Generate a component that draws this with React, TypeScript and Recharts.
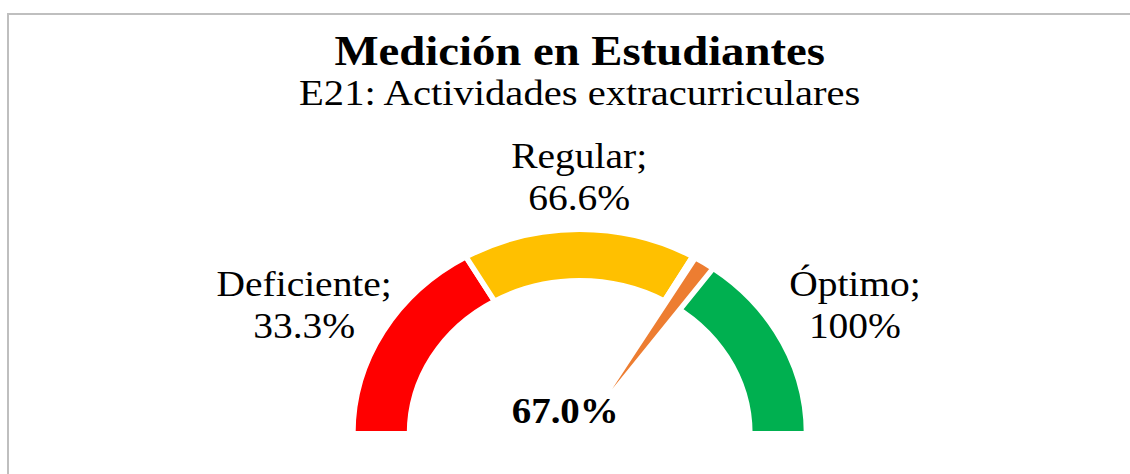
import React from 'react';
import { PieChart, Pie, Cell } from 'recharts';

// gauge bands (Excel-style half donut)
const CATEGORIES = ['Deficiente', 'Regular', 'Óptimo'];
const THRESHOLDS = [33.3, 66.6, 100];
const BAND_COLORS = ['#FF0000', '#FFC000', '#00B050'];

// needle
const SCORE = 67.0;
const NEEDLE_WIDTH = 3;
const NEEDLE_COLOR = '#ED7D31';

const TITLE = 'Medición en Estudiantes';
const SUBTITLE = 'E21: Actividades extracurriculares';

const FONT = "'Liberation Serif', 'Times New Roman', serif";
const STRETCH = 1.112;
const W = 1016;
const H = 474;
const CX = 521.3;
const CY = 433.5;
const INNER = 153;
const OUTER = 204;

const bandData = CATEGORIES.map((name, i) => ({
  name,
  value: THRESHOLDS[i] - (i > 0 ? THRESHOLDS[i - 1] : 0),
}));

const needleData = [
  { name: 'before', value: SCORE },
  { name: 'needle', value: NEEDLE_WIDTH },
  { name: 'after', value: 100 - SCORE - NEEDLE_WIDTH },
];

const renderBandLabel = (props: any) => {
  const { cx, cy, midAngle, outerRadius, index } = props;
  const rad = (midAngle * Math.PI) / 180;
  const x = cx + Math.cos(rad) * (outerRadius + 82);
  const yc = cy - Math.sin(rad) * (outerRadius + 52);
  return (
    <text
      x={x}
      y={yc - 9.25}
      textAnchor='middle'
      fontFamily={FONT}
      fontSize={35.5}
      fill='#000000'
    >
      <tspan x={x}>{CATEGORIES[index]};</tspan>
      <tspan x={x} dy={41.5}>
        {String(THRESHOLDS[index])}%
      </tspan>
    </text>
  );
};

export default function App() {
  return (
    <div
      style={{
        position: 'absolute',
        left: 0,
        top: 0,
        width: 1130,
        height: 474,
        overflow: 'hidden',
        background: '#ffffff',
      }}
    >
      <div
        style={{
          position: 'absolute',
          left: 7,
          top: 13,
          width: 1300,
          height: 700,
          borderTop: '2px solid #bfbfbf',
          borderLeft: '2px solid #bfbfbf',
        }}
      />
      <div
        style={{
          position: 'absolute',
          left: 0,
          top: 0,
          width: W,
          height: H,
          transform: `scaleX(${STRETCH})`,
          transformOrigin: '0 0',
        }}
      >
        <div
          style={{
            position: 'absolute',
            left: 0,
            top: 29.8,
            width: CX * 2,
            textAlign: 'center',
            fontFamily: FONT,
            fontWeight: 'bold',
            fontSize: 42,
            lineHeight: '42px',
            whiteSpace: 'nowrap',
          }}
        >
          {TITLE}
        </div>
        <div
          style={{
            position: 'absolute',
            left: 0,
            top: 74.5,
            width: CX * 2,
            textAlign: 'center',
            fontFamily: FONT,
            fontSize: 36.5,
            lineHeight: '36.5px',
            whiteSpace: 'nowrap',
          }}
        >
          {SUBTITLE}
        </div>
        <div style={{ position: 'absolute', left: 0, top: 0 }}>
          <PieChart width={W} height={H} margin={{ top: 0, right: 0, bottom: 0, left: 0 }}>
            <Pie
              data={bandData}
              dataKey='value'
              cx={CX}
              cy={CY}
              startAngle={180}
              endAngle={0}
              innerRadius={INNER}
              outerRadius={OUTER}
              stroke='#ffffff'
              strokeWidth={5}
              label={renderBandLabel}
              labelLine={false}
              isAnimationActive={false}
            >
              {bandData.map((d, i) => (
                <Cell key={d.name} fill={BAND_COLORS[i]} />
              ))}
            </Pie>
            <Pie
              data={needleData}
              dataKey='value'
              cx={CX}
              cy={CY}
              startAngle={180}
              endAngle={0}
              innerRadius={0}
              outerRadius={OUTER}
              isAnimationActive={false}
            >
              {needleData.map((d) =>
                d.name === 'needle' ? (
                  <Cell key={d.name} fill={NEEDLE_COLOR} stroke='#ffffff' strokeWidth={5} />
                ) : (
                  <Cell key={d.name} fill='transparent' stroke='none' />
                ),
              )}
            </Pie>
          </PieChart>
        </div>
        <div
          style={{
            position: 'absolute',
            left: CX - 113,
            top: 393.7,
            width: 200,
            textAlign: 'center',
            fontFamily: FONT,
            fontWeight: 'bold',
            fontSize: 35,
            lineHeight: '35px',
            whiteSpace: 'nowrap',
          }}
        >
          {SCORE.toFixed(1)}%
        </div>
      </div>
    </div>
  );
}
